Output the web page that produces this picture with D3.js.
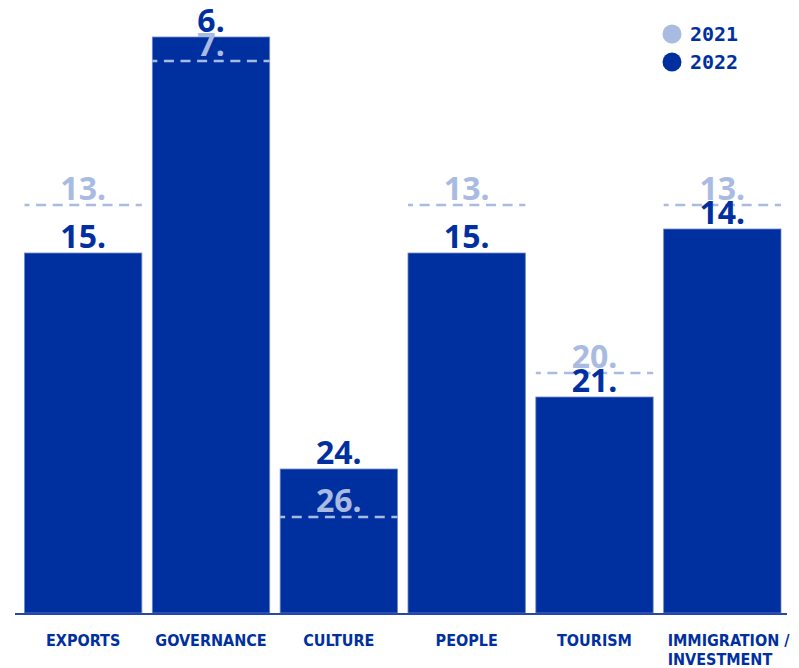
<!DOCTYPE html>
<html>
<head>
<meta charset="utf-8">
<script src="https://cdn.jsdelivr.net/npm/d3@7"></script>
<style>
  html, body { margin: 0; padding: 0; background: #ffffff; }
  svg { display: block; }
</style>
</head>
<body>
<svg id="chart" width="799" height="668"></svg>
<script>
// ---- data ----
const categories = ["EXPORTS", "GOVERNANCE", "CULTURE", "PEOPLE", "TOURISM", "IMMIGRATION /\nINVESTMENT"];
const rank2022 = [15, 6, 24, 15, 21, 14];
const rank2021 = [13, 7, 26, 13, 20, 13];
const legendLabels = ["2021", "2022"];

// ---- style ----
const DARK = "#0030a0";
const LIGHT = "#aabbe2";
const numFont = "'Noto Sans', 'DejaVu Sans', sans-serif";
const catFont = "'Liberation Sans Narrow', 'DejaVu Sans Condensed', sans-serif";
const legFont = "'DejaVu Sans Mono', monospace";

const svg = d3.select("#chart");
const baseline = 613;

const x = d3.scaleBand()
  .domain(categories)
  .range([24.5, 781])
  .paddingInner(0.082)
  .paddingOuter(0);

const y = d3.scaleLinear()
  .domain([30, 6])
  .range([baseline, 37]);

const data = categories.map((c, i) => ({ cat: c, v22: rank2022[i], v21: rank2021[i] }));

// bars
svg.append("g").selectAll("rect")
  .data(data)
  .join("rect")
  .attr("x", d => x(d.cat))
  .attr("y", d => y(d.v22))
  .attr("width", x.bandwidth())
  .attr("height", d => baseline - y(d.v22))
  .attr("fill", DARK)
  .attr("stroke", "#6f86cc")
  .attr("stroke-width", 0.8);

// baseline
svg.append("line")
  .attr("x1", 15).attr("x2", 787)
  .attr("y1", baseline + 1).attr("y2", baseline + 1)
  .attr("stroke", "#2448ad")
  .attr("stroke-width", 2);

// 2021 dashed lines
svg.append("g").selectAll("line")
  .data(data)
  .join("line")
  .attr("x1", d => x(d.cat))
  .attr("x2", d => x(d.cat) + x.bandwidth())
  .attr("y1", d => y(d.v21))
  .attr("y2", d => y(d.v21))
  .attr("stroke", LIGHT)
  .attr("stroke-width", 2.6)
  .attr("stroke-dasharray", "10,6.6")
  .attr("stroke-dashoffset", 5);

// 2021 labels
svg.append("g").selectAll("text")
  .data(data)
  .join("text")
  .attr("x", d => x(d.cat) + x.bandwidth() / 2)
  .attr("y", d => y(d.v21) - 5)
  .attr("text-anchor", "middle")
  .attr("font-family", numFont)
  .attr("font-weight", 700)
  .attr("font-size", 32)
  .attr("fill", LIGHT)
  .text(d => d.v21 + ".");

// 2022 labels
svg.append("g").selectAll("text")
  .data(data)
  .join("text")
  .attr("x", d => x(d.cat) + x.bandwidth() / 2)
  .attr("y", d => y(d.v22) - 5)
  .attr("text-anchor", "middle")
  .attr("font-family", numFont)
  .attr("font-weight", 700)
  .attr("font-size", 32)
  .attr("fill", DARK)
  .text(d => d.v22 + ".");

// category labels
const catG = svg.append("g");
data.forEach(d => {
  const lines = d.cat.split("\n");
  const multi = lines.length > 1;
  const t = catG.append("text")
    .attr("font-family", catFont)
    .attr("font-weight", 700)
    .attr("font-size", 16)
    .attr("fill", DARK)
    .attr("text-anchor", multi ? "start" : "middle");
  lines.forEach((ln, j) => {
    t.append("tspan")
      .attr("x", multi ? x(d.cat) + 4 : x(d.cat) + x.bandwidth() / 2)
      .attr("y", 646 + j * 19)
      .text(ln);
  });
});

// legend
const legColors = [LIGHT, DARK];
const leg = svg.append("g");
legendLabels.forEach((lab, i) => {
  leg.append("circle")
    .attr("cx", 672).attr("cy", 34 + i * 28)
    .attr("r", 9.5)
    .attr("fill", legColors[i]);
  leg.append("text")
    .attr("x", 690).attr("y", 41 + i * 28)
    .attr("font-family", legFont)
    .attr("font-weight", 700)
    .attr("font-size", 20)
    .attr("fill", DARK)
    .text(lab);
});
</script>
</body>
</html>
